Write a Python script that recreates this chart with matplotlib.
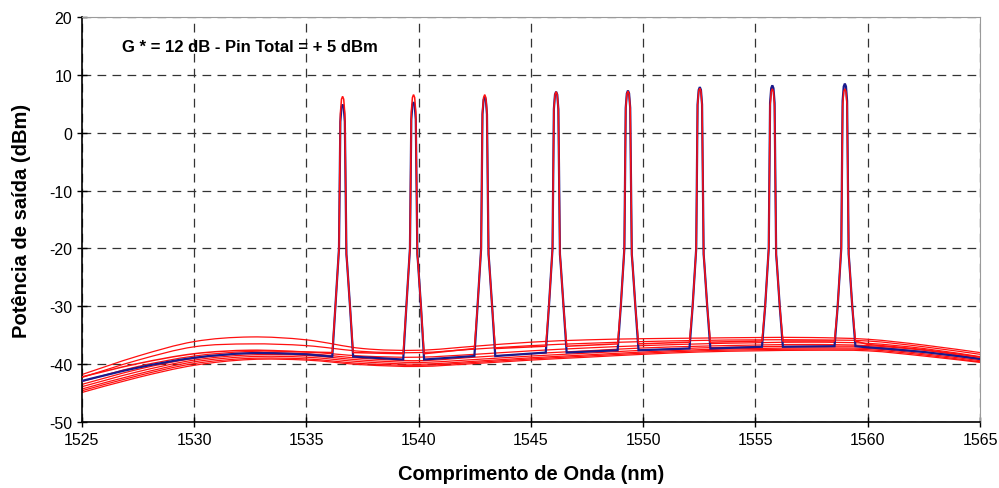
import numpy as np
import matplotlib
matplotlib.use("Agg")
import matplotlib.pyplot as plt
from matplotlib.path import Path
from matplotlib.patches import PathPatch

plt.rcParams["font.family"] = ["Liberation Sans", "DejaVu Sans"]
plt.rcParams["axes.unicode_minus"] = False

# wavelength nodes for the ASE background (nm)
wl_nodes = [1525, 1527.5, 1530, 1532.5, 1535, 1537.5, 1540, 1542.5, 1545,
            1547.5, 1550, 1552.5, 1555, 1557.5, 1560, 1562.5, 1565]

# red ASE-only traces (dBm)
ase_traces = [
    [-41.8, -38.6, -36.1, -35.3, -35.8, -37.3, -37.6, -36.9, -36.2, -35.8, -35.6, -35.5, -35.4, -35.4, -35.7, -36.7, -38.0],
    [-42.3, -39.3, -37.0, -36.5, -36.8, -37.8, -38.0, -37.4, -36.8, -36.4, -36.1, -35.9, -35.8, -35.8, -36.0, -37.0, -38.3],
    [-43.0, -40.4, -38.6, -37.8, -37.9, -38.6, -38.8, -38.3, -37.7, -37.2, -36.8, -36.5, -36.3, -36.2, -36.4, -37.3, -38.7],
    [-43.5, -40.9, -39.0, -38.1, -38.2, -39.0, -39.4, -38.8, -38.2, -37.7, -37.2, -36.9, -36.7, -36.6, -36.8, -37.6, -39.0],
    [-43.9, -41.3, -39.3, -38.4, -38.5, -39.3, -39.7, -39.2, -38.6, -38.1, -37.6, -37.2, -37.0, -36.9, -37.0, -37.9, -39.2],
    [-44.3, -41.7, -39.6, -38.7, -38.8, -39.6, -40.0, -39.5, -38.9, -38.4, -37.9, -37.5, -37.3, -37.2, -37.3, -38.2, -39.4],
    [-44.6, -42.0, -39.9, -39.0, -39.1, -39.9, -40.2, -39.7, -39.1, -38.6, -38.1, -37.7, -37.5, -37.4, -37.5, -38.4, -39.6],
    [-44.9, -42.3, -40.2, -39.2, -39.3, -40.1, -40.4, -39.9, -39.3, -38.8, -38.3, -37.9, -37.7, -37.6, -37.7, -38.6, -39.7],
]

# signal traces: background nodes outside the channels
blue_base = [-42.9, -40.6, -38.9, -38.1, -38.3, None, None, None, None,
             None, None, None, None, None, -37.1, -37.9, -39.1]
red_base = [-42.2, -39.9, -38.2, -37.6, -37.9, None, None, None, None,
            None, None, None, None, None, -36.6, -37.5, -38.8]

# channel centres (nm) and peak powers (dBm)
ch_wl = [1536.61, 1539.77, 1542.94, 1546.12, 1549.32, 1552.52, 1555.75, 1558.98]
blue_top = [4.9, 5.3, 6.2, 7.1, 7.3, 7.9, 8.2, 8.5]
red_top = [6.3, 6.6, 6.6, 7.1, 7.2, 7.7, 7.6, 7.6]
# floor level between channels
blue_foot = [-38.7, -39.2, -38.6, -38.0, -37.6, -37.3, -37.0, -36.9]
red_foot = [-38.0, -38.2, -37.3, -36.9, -36.5, -36.2, -36.0, -36.0]

# channel shape: offset from centre (nm) and level kind
prof_dx = [-0.46, -0.32, -0.16, -0.10, -0.05, 0.0, 0.05, 0.10, 0.17, 0.2, 0.33, 0.47]
prof_lv = ["foot", -30.0, -20.0, "top-3", "top-0.5", "top", "top-0.5", "top-3", -21.0, -22.5, -30.0, "foot"]

label_text = "G * = 12 dB - Pin Total = + 5 dBm"


def signal_trace(base, tops, feet):
    xs, ys, bg = [], [], []
    for w, b in zip(wl_nodes, base):
        if b is not None:
            xs.append(w)
            ys.append(b)
            bg.append(True)
    for c, t, f in zip(ch_wl, tops, feet):
        for dx, lv in zip(prof_dx, prof_lv):
            if lv == "foot":
                y = f
            elif lv == "top":
                y = t
            elif isinstance(lv, str):
                y = t - float(lv.split("-")[1])
            else:
                y = lv
            xs.append(c + dx)
            ys.append(y)
            bg.append(False)
    order = np.argsort(xs)
    return np.array(xs)[order], np.array(ys)[order], np.array(bg)[order]


def smooth_path(x, y, bg=None):
    # Excel-like smoothed line: Catmull-Rom segments drawn as cubic Beziers
    pts = np.column_stack([x, y])
    n = len(pts)
    if bg is None:
        bg = np.ones(n, dtype=bool)
    verts = [pts[0]]
    codes = [Path.MOVETO]
    for i in range(n - 1):
        p1, p2 = pts[i], pts[i + 1]
        if bg[i] and bg[i + 1]:
            p0 = pts[i - 1] if i > 0 and bg[i - 1] else p1
            p3 = pts[i + 2] if i + 2 < n and bg[i + 2] else p2
            verts += [p1 + (p2 - p0) / 6, p2 - (p3 - p1) / 6, p2]
            codes += [Path.CURVE4] * 3
        else:
            verts.append(p2)
            codes.append(Path.LINETO)
    return Path(verts, codes)


fig, ax = plt.subplots(figsize=(9.99, 4.89), dpi=100)
fig.subplots_adjust(left=0.082, right=0.981, bottom=0.135, top=0.963)

for tr in ase_traces:
    ax.add_patch(PathPatch(smooth_path(wl_nodes, tr), fill=False,
                           edgecolor="#ff1010", lw=0.9, zorder=2))

bx, by, bbg = signal_trace(blue_base, blue_top, blue_foot)
rx, ry, rbg = signal_trace(red_base, red_top, red_foot)
ax.add_patch(PathPatch(smooth_path(bx, by, bbg), fill=False,
                       edgecolor="#1a1a8c", lw=1.6, zorder=3))
ax.add_patch(PathPatch(smooth_path(rx, ry, rbg), fill=False,
                       edgecolor="#ff1010", lw=1.1, zorder=4))

ax.set_xlim(1525, 1565)
ax.set_ylim(-50, 20)
ax.set_xticks(np.arange(1525, 1566, 5))
ax.set_yticks(np.arange(-50, 21, 10))
ax.grid(True, color="#333333", linestyle=(0, (7, 5)), linewidth=0.9)
ax.set_axisbelow(True)

for s in ["top", "right"]:
    ax.spines[s].set_color("#9a9a9a")
for s in ["left", "bottom"]:
    ax.spines[s].set_color("black")
    ax.spines[s].set_linewidth(1.2)

ax.tick_params(axis="both", direction="inout", length=7, width=1, labelsize=11.5)
ax.tick_params(axis="x", pad=4)

ax.set_xlabel("Comprimento de Onda (nm)", fontsize=14.5, fontweight="bold", labelpad=12)
ax.set_ylabel("Potência de saída (dBm)", fontsize=14.5, fontweight="bold", labelpad=13)
ax.text(1526.8, 15, label_text, fontsize=12, fontweight="bold", va="center")

fig.savefig("out.png", dpi=100)
